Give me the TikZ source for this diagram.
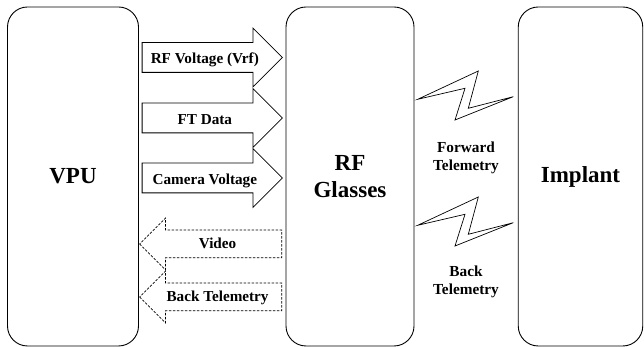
\documentclass[tikz,border=0pt]{standalone}
\usepackage{fontspec}
\setmainfont{Liberation Serif}
\usetikzlibrary{shapes.arrows}

\begin{document}
\begin{tikzpicture}[x=1pt,y=1pt,
  unitbox/.style={draw=drawColor,line width=0.9pt,rounded corners=20pt,minimum width=130pt,minimum height=339pt,inner sep=0pt,align=center,font=\fontsize{23}{26.5}\selectfont\bfseries},
  fwdarrow/.style={single arrow,draw=drawColor,line width=0.8pt,anchor=tail,minimum height=140.3pt,single arrow head extend=14.5pt,single arrow tip angle=90,inner xsep=0.5pt,inner ysep=7.75pt,text height=13pt,text depth=0.5pt,font=\fontsize{15.2}{18}\selectfont\bfseries},
  backarrow/.style={fwdarrow,shape border rotate=180,line width=0.75pt,dash pattern=on 2.5pt off 1.5pt,minimum height=142pt,single arrow head extend=12pt,inner ysep=6.75pt,text height=11.5pt,text depth=2pt},
  linklabel/.style={align=center,inner sep=0pt,font=\fontsize{15.3}{18}\selectfont\bfseries},
  bolt/.style={draw=drawColor,line width=0.7pt,line join=miter}]
\definecolor{fillColor}{RGB}{255,255,255}
\definecolor{drawColor}{RGB}{0,0,0}
\path[use as bounding box,fill=fillColor] (0,0) rectangle (644,347);

\node[unitbox,minimum width=131pt] (vpu) at ( 73.0,170.5) {VPU};
\node[unitbox,minimum width=128pt] (glasses) at (350.0,170.5) {RF\\Glasses};
\node[unitbox,minimum width=124.5pt] (implant) at (580.5,170.5) {Implant};

\node[fwdarrow] (vrf) at (141.7,289.5) {RF Voltage (Vrf)};
\node[fwdarrow] (ftdata) at (141.7,229.0) {FT Data};
\node[fwdarrow] (camvolt) at (141.7,169.0) {Camera Voltage};

\node[backarrow] (video) at (282.0,103.0) {Video};
\node[backarrow] (backtele) at (282.0, 50.0) {Back Telemetry};

\foreach \dy in {0,-126}
  \draw[bolt,yshift=\dy] (417.7,247.7) -- (478.3,276.0) -- (468.3,238.7) -- (513.3,250.3) -- (455.0,227.0) -- (465.0,258.7) -- cycle;

\node[linklabel] (fwdlabel) at (466.0,189.5) {Forward\\Telemetry};
\node[linklabel] (backlabel) at (466.0, 65.0) {Back\\Telemetry};
\end{tikzpicture}
\end{document}
